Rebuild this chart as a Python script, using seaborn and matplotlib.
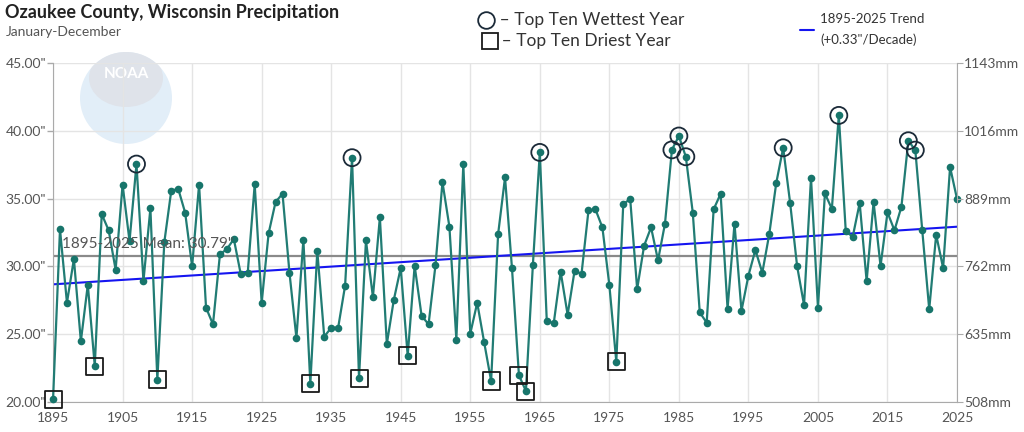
import numpy as np
import pandas as pd
import matplotlib
matplotlib.use("Agg")
import matplotlib.pyplot as plt
import seaborn as sns
from matplotlib.patches import Circle, Ellipse
from matplotlib.lines import Line2D

# annual precipitation, inches
years = list(range(1895, 2026))
precip = [20.20, 32.74, 27.32, 30.55, 24.48, 28.65, 22.65, 33.86, 32.66, 29.76,
          36.03, 31.87, 37.55, 28.92, 34.28, 21.65, 31.78, 35.58, 35.73, 33.96,
          30.00, 36.03, 26.96, 25.73, 30.89, 31.28, 32.02, 29.42, 29.54, 36.05,
          27.32, 32.44, 34.75, 35.36, 29.54, 24.72, 31.97, 21.35, 31.14, 24.82,
          25.48, 25.48, 28.58, 38.02, 21.77, 31.92, 27.74, 33.62, 24.28, 27.52,
          29.90, 23.41, 30.05, 26.36, 25.73, 30.10, 36.22, 32.93, 24.60, 37.53,
          25.04, 27.32, 24.40, 21.55, 32.36, 36.57, 29.86, 21.97, 20.81, 30.08,
          38.41, 26.00, 25.80, 29.61, 26.44, 29.68, 29.46, 34.13, 34.21, 32.88,
          28.63, 22.97, 34.60, 34.97, 28.33, 31.53, 32.88, 30.45, 33.15, 38.60,
          39.62, 38.09, 33.96, 26.61, 25.85, 34.21, 35.36, 26.88, 33.15, 26.73,
          29.32, 31.21, 29.54, 32.39, 36.15, 38.75, 34.68, 30.03, 27.15, 36.54,
          26.96, 35.38, 34.25, 41.14, 32.59, 32.19, 34.68, 28.92, 34.75, 30.03,
          33.99, 32.66, 34.40, 39.27, 38.58, 32.66, 26.84, 32.34, 29.88, 37.33,
          34.97]

wettest_years = [1907, 1938, 1965, 1984, 1985, 1986, 2000, 2008, 2018, 2019]
driest_years = [1895, 1901, 1910, 1932, 1939, 1946, 1958, 1962, 1963, 1976]

mean_value = 30.79
trend_years = [1895, 2025]
trend_values = [28.68, 32.93]

x_ticks = list(range(1895, 2026, 10))
y_ticks = [20, 25, 30, 35, 40, 45]

df = pd.DataFrame({"year": years, "precip": precip})
wet = df[df["year"].isin(wettest_years)]
dry = df[df["year"].isin(driest_years)]

sns.set_style("white")
plt.rcParams["font.family"] = ["Lato", "DejaVu Sans"]

fig = plt.figure(figsize=(10.24, 4.32), dpi=100)
ax = fig.add_axes([0.0518, 0.0694, 0.8828, 0.7846])

# NOAA watermark behind the plot
logo = fig.add_axes([0.0, 0.0, 1.0, 1.0], zorder=-1)
logo.set_xlim(0, 1024)
logo.set_ylim(432, 0)
logo.axis("off")
disc = Circle((126, 98), 46, color="#e2eef8", lw=0)
logo.add_patch(disc)
top = Ellipse((126, 78), 74, 58, color="#dfe3ea", lw=0)
logo.add_patch(top)
top.set_clip_path(disc)
logo.text(126, 74, "NOAA", color="white", ha="center", va="center", fontsize=11, fontweight="bold")
ax.patch.set_alpha(0)

ax.grid(True, color="#e4e4e4", lw=1)
ax.set_axisbelow(True)

sns.lineplot(data=df, x="year", y="precip", ax=ax, color="#217c74", lw=1.6,
             marker="o", markersize=5.5, markeredgewidth=0, markerfacecolor="#17756b",
             clip_on=False, zorder=3)

ax.axhline(mean_value, color="#8a8a8a", lw=1.6, zorder=2)
ax.text(1896.3, mean_value + 0.35, '1895-2025 Mean: 30.79"', color="#555555",
        fontsize=11, va="bottom", ha="left", zorder=4)
sns.lineplot(x=trend_years, y=trend_values, ax=ax, color="#1515f0", lw=1.5, zorder=2)

ax.scatter(wet["year"], wet["precip"], s=150, facecolors="none", edgecolors="#1b2a38",
           linewidths=1.3, clip_on=False, zorder=5)
ax.scatter(dry["year"], dry["precip"], s=150, marker="s", facecolors="none",
           edgecolors="#1a1a1a", linewidths=1.3, clip_on=False, zorder=5)

ax.set_xlim(1895, 2025)
ax.set_ylim(20, 45)
ax.set_xticks(x_ticks)
ax.set_yticks(y_ticks)
ax.set_yticklabels([f'{v:.2f}"' for v in y_ticks])
ax.set_xlabel("")
ax.set_ylabel("")
ax.tick_params(axis="both", colors="#555555", labelsize=10, length=4, width=1)
ax.tick_params(axis="x", colors="#cccccc", labelcolor="#555555")
ax.tick_params(axis="y", colors="#aaaaaa", labelcolor="#555555", pad=1)
ax.spines["top"].set_visible(False)
ax.spines["right"].set_visible(False)
for s in ["left", "bottom"]:
    ax.spines[s].set_color("#aaaaaa")

ax2 = ax.twinx()
ax2.set_ylim(20 * 25.4, 45 * 25.4)
ax2.set_yticks([v * 25.4 for v in y_ticks])
ax2.set_yticklabels([f"{v * 25.4:.0f}mm" for v in y_ticks])
ax2.tick_params(axis="y", colors="#aaaaaa", labelcolor="#555555", labelsize=10, length=4, pad=1)
ax2.spines["top"].set_visible(False)
ax2.spines["left"].set_visible(False)
ax2.spines["bottom"].set_visible(False)
ax2.spines["right"].set_color("#aaaaaa")
ax2.grid(False)

fig.text(0.005, 0.972, "Ozaukee County, Wisconsin Precipitation", fontsize=13,
         fontweight="bold", color="#222222", va="center")
fig.text(0.006, 0.925, "January-December", fontsize=10, color="#555555", va="center")

# legends
fig.add_artist(Line2D([486 / 1024], [1 - 20 / 432], marker="o", markersize=12,
                      markerfacecolor="none", markeredgecolor="#1b2a38", markeredgewidth=1.3))
fig.text(495 / 1024, 1 - 20 / 432, " – Top Ten Wettest Year", fontsize=12.5, color="#333333", va="center")
fig.add_artist(Line2D([490 / 1024], [1 - 41 / 432], marker="s", markersize=11,
                      markerfacecolor="none", markeredgecolor="#1a1a1a", markeredgewidth=1.3))
fig.text(497 / 1024, 1 - 41 / 432, " – Top Ten Driest Year", fontsize=12.5, color="#333333", va="center")
fig.add_artist(Line2D([800 / 1024, 814 / 1024], [1 - 30 / 432, 1 - 30 / 432], color="#1515f0", lw=1.5))
fig.text(820 / 1024, 1 - 19 / 432, "1895-2025 Trend", fontsize=9.5, color="#333333", va="center")
fig.text(820 / 1024, 1 - 40 / 432, '(+0.33"/Decade)', fontsize=9.5, color="#333333", va="center")

fig.savefig("out.png", dpi=100)
